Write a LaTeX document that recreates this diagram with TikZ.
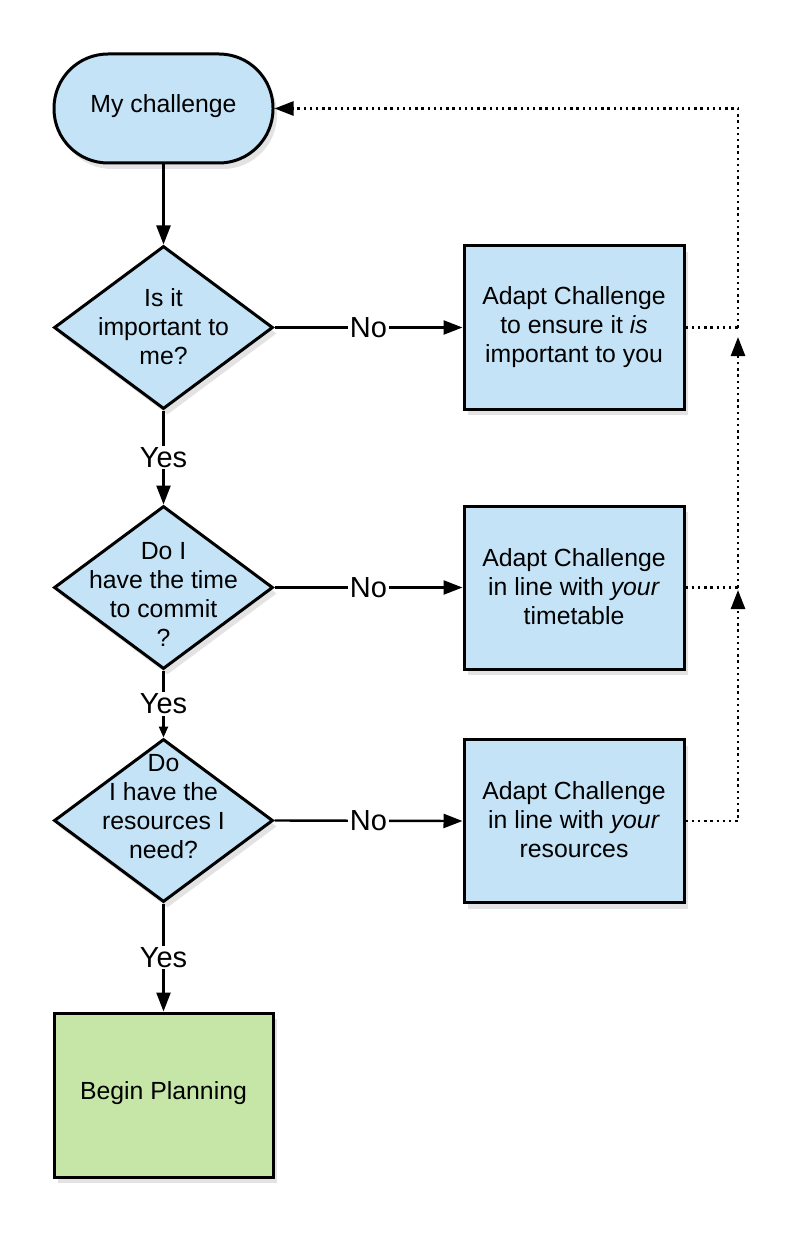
\documentclass[tikz,border=0pt]{standalone}
\usepackage{fontspec}
\setmainfont{Liberation Sans}
\usetikzlibrary{arrows.meta,shapes.geometric,shadows}
\definecolor{boxblue}{RGB}{196,227,246}
\definecolor{boxgreen}{RGB}{198,230,168}
\tikzset{
  base/.style={draw=black, line width=3pt, fill=boxblue, inner sep=0pt,
    drop shadow={shadow xshift=4pt, shadow yshift=-6pt, opacity=0.22}},
  term/.style={base, rectangle, rounded corners=54pt, minimum width=219pt, minimum height=109pt},
  decision/.style={base, diamond, minimum width=219pt, minimum height=163pt},
  action/.style={base, rectangle, minimum width=220pt, minimum height=163pt},
  finish/.style={action, fill=boxgreen, minimum width=219pt, minimum height=164pt},
  txt/.style={align=center, font=\fontsize{24.8}{29}\selectfont, inner sep=0pt},
  flow/.style={line width=2.4pt, -{Triangle[length=19pt,width=14pt]}},
  flowsmall/.style={line width=2.4pt, -{Triangle[length=11pt,width=9pt]}},
  loopline/.style={line width=2.6pt, dash pattern=on 2.4pt off 3.8pt},
  loopar/.style={loopline, -{Triangle[length=19pt,width=14pt]}},
  lbl/.style={fill=white, inner sep=1.5pt, font=\fontsize{29}{31}\selectfont}
}
\begin{document}
\begin{tikzpicture}[x=1pt,y=-1pt]
\useasboundingbox (0,0) rectangle (800,1233);
% nodes
\node[term] (t) at (163.5,108.5) {};
\node[txt] (tt) at (163.5,106) {My challenge};
\node[decision] (d1) at (163.5,327.5) {};
\node[txt] (d1t) at (163.5,327) {Is it\\important to\\me?};
\node[decision] (d2) at (163.5,587.5) {};
\node[txt] (d2t) at (163.5,594) {Do I\\have the time\\to commit\\?};
\node[decision] (d3) at (163.5,820.5) {};
\node[txt] (d3t) at (163.5,807) {Do\\I have the\\resources I\\need?};
\node[action] (b1) at (574,327.5) {};
\node[txt] (b1t) at (574,327) {Adapt Challenge\\to ensure it \textit{is}\\important to you};
\node[action] (b2) at (574,587.5) {};
\node[txt] (b2t) at (574,587) {Adapt Challenge\\in line with \textit{your}\\timetable};
\node[action] (b3) at (574,821) {};
\node[txt] (b3t) at (574,820) {Adapt Challenge\\in line with \textit{your}\\resources};
\node[finish] (p) at (163.5,1095) {};
\node[txt] (pt) at (163.5,1093) {Begin Planning};
% main flow
\draw[flow] (t.south) -- (d1.north);
\draw[flow] (d1.south) -- node[lbl] (y1) {Yes} (d2.north);
\draw[flowsmall] (d2.south) -- node[lbl] (y2) {Yes} (d3.north);
\draw[flow] (d3.south) -- node[lbl] (y3) {Yes} (p.north);
\draw[flow] (d1.east) -- node[lbl] (n1) {No} (b1.west);
\draw[flow] (d2.east) -- node[lbl] (n2) {No} (b2.west);
\draw[flow] (d3.east) -- node[lbl] (n3) {No} (b3.west);
% loop back
\coordinate (j1) at (738,327.5);
\coordinate (j2) at (738,587.5);
\coordinate (j3) at (738,821);
\coordinate (jt) at (738,108.5);
\coordinate (a1) at (738,337);
\coordinate (a2) at (738,590);
\draw[loopline] (b1.east) -- (j1);
\draw[loopline] (b2.east) -- (j2);
\draw[loopar] (b3.east) -- (j3) -- (a2);
\draw[loopar] (j2) -- (a1);
\draw[loopar] (j1) -- (jt) -- (t.east);
\end{tikzpicture}
\end{document}
